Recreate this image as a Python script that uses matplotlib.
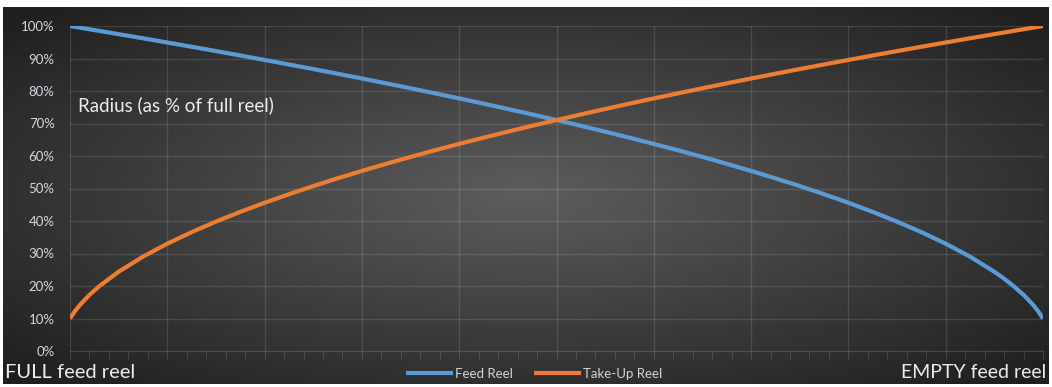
import numpy as np
import matplotlib.pyplot as plt

plt.rcParams['font.family'] = ['Lato', 'DejaVu Sans']

# position along the reel run, in % (0 = full feed reel, 100 = empty feed reel)
progress = [0, 0.5, 1, 2, 3, 5, 7.5, 10, 12.5, 15, 17.5, 20, 22.5, 25, 27.5, 30, 32.5, 35, 37.5,
            40, 42.5, 45, 47.5, 50, 52.5, 55, 57.5, 60, 62.5, 65, 67.5, 70, 72.5, 75, 77.5,
            80, 82.5, 85, 87.5, 90, 92.5, 95, 96, 97, 98, 98.5, 99, 99.5, 100]
# radius as % of a full reel
feed_reel = [100, 99.75, 99.5, 99.0, 98.5, 97.49, 96.22, 94.92, 93.61, 92.28, 90.93, 89.55,
             88.16, 86.75, 85.31, 83.85, 82.36, 80.84, 79.29, 77.72, 76.11, 74.46, 72.78, 71.06,
             69.30, 67.49, 65.63, 63.72, 61.75, 59.71, 57.60, 55.41, 53.13, 50.74, 48.24, 45.61,
             42.81, 39.81, 36.57, 33.02, 29.03, 24.39, 22.27, 19.92, 17.26, 15.76, 14.11, 12.23, 10.0]
takeup_reel = [10.0, 12.23, 14.11, 17.26, 19.92, 24.39, 29.03, 33.02, 36.57, 39.81, 42.81, 45.61,
               48.24, 50.74, 53.13, 55.41, 57.60, 59.71, 61.75, 63.72, 65.63, 67.49, 69.30, 71.06,
               72.78, 74.46, 76.11, 77.72, 79.29, 80.84, 82.36, 83.85, 85.31, 86.75, 88.16, 89.55,
               90.93, 92.28, 93.61, 94.92, 96.22, 97.49, 98.0, 98.5, 99.0, 99.25, 99.5, 99.75, 100]
y_ticks = [0, 10, 20, 30, 40, 50, 60, 70, 80, 90, 100]

W, H = 1052, 387
fig = plt.figure(figsize=(W / 100, H / 100), dpi=100, facecolor='white')

# dark panel with a radial gradient
bg = fig.add_axes([3 / W, 3 / H, 1046 / W, 377 / H])
bg.set_axis_off()
gx, gy = np.meshgrid(np.linspace(-1, 1, 400), np.linspace(-1, 1, 150))
dist = np.clip(np.sqrt(gx ** 2 + gy ** 2) / 1.35, 0, 1)
shade = 0.365 - 0.24 * dist
bg.imshow(np.dstack([shade] * 3), aspect='auto', extent=[0, 1, 0, 1], interpolation='bilinear')

ax = fig.add_axes([70 / W, 1 - 351 / H, 973 / W, 325 / H])
ax.patch.set_alpha(0)

ax.plot(progress, feed_reel, color='#5b9bd5', lw=3, label='Feed Reel', solid_capstyle='butt', zorder=3)
ax.plot(progress, takeup_reel, color='#ed7d31', lw=3, label='Take-Up Reel', solid_capstyle='butt', zorder=3)

ax.set_xlim(0, 100)
ax.set_ylim(0, 100)
ax.set_yticks(y_ticks)
ax.set_yticklabels([f'{v}%' for v in y_ticks])
ax.set_xticks(np.arange(0, 101, 10))
ax.set_xticks(np.arange(0, 101, 2), minor=True)
ax.set_xticklabels([])
ax.tick_params(axis='y', length=0, labelsize=9.5, labelcolor='#d4d8e0', pad=11)
ax.tick_params(axis='x', which='both', length=6, color=(1, 1, 1, 0.15), direction='out')
ax.grid(True, which='major', color='white', alpha=0.12, lw=1)
for side in ['top', 'right', 'left']:
    ax.spines[side].set_visible(False)
ax.spines['bottom'].set_color((1, 1, 1, 0.15))

ax.text(0.008, 0.755, 'Radius (as % of full reel)', transform=ax.transAxes,
        color='#ececec', fontsize=13.5, va='center', ha='left')
fig.text(5 / W, 1 - 373 / H, 'FULL feed reel', color='#ececec', fontsize=14.5, va='center', ha='left')
fig.text(1046 / W, 1 - 373 / H, 'EMPTY feed reel', color='#ececec', fontsize=14, va='center', ha='right')

leg = ax.legend(loc='upper center', bbox_to_anchor=(0.477, -0.015), ncol=2, frameon=False,
                fontsize=9.5, handlelength=3.6, handletextpad=0.15, columnspacing=1.6)
for t in leg.get_texts():
    t.set_color('#d4d4d4')

fig.savefig('out.png', dpi=100, facecolor='white')
